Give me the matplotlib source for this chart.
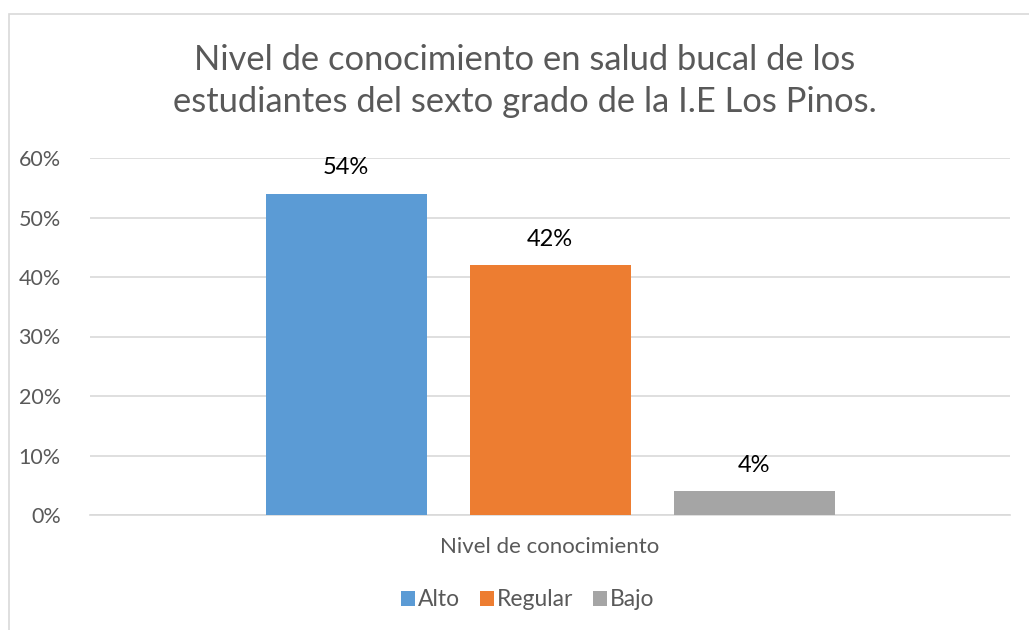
import matplotlib.pyplot as plt
from matplotlib.patches import Rectangle

# datos
series = ["Alto", "Regular", "Bajo"]
valores = [0.54, 0.42, 0.04]
etiquetas = ["54%", "42%", "4%"]
colores = ["#5B9BD5", "#ED7D31", "#A5A5A5"]
categoria = "Nivel de conocimiento"
ticks = [0, 0.1, 0.2, 0.3, 0.4, 0.5, 0.6]
tick_labels = ["0%", "10%", "20%", "30%", "40%", "50%", "60%"]

plt.rcParams["font.family"] = ["Lato", "DejaVu Sans"]
gris = "#595959"

fig = plt.figure(figsize=(10.29, 6.3), dpi=100)
fig.patches.append(Rectangle((9 / 1029, -0.1), 1.2, 1 - 14 / 630 + 0.1,
                             transform=fig.transFigure, fill=False,
                             edgecolor="#d9d9d9", linewidth=1.2))

ax = fig.add_axes([90 / 1029, 1 - 515 / 630, 920 / 1029, 357 / 630])
ancho = 161 / 920
paso = 204 / 920
for i, (s, v, e, c) in enumerate(zip(series, valores, etiquetas, colores)):
    x = (i - 1) * paso
    ax.bar(x, v, width=ancho, color=c, label=s, zorder=3)
    ax.text(x, v + 0.026, e, ha="center", va="bottom", fontsize=17, color="#000000")

ax.set_xlim(-0.5, 0.5)
ax.set_ylim(0, 0.6)
ax.set_yticks(ticks)
ax.set_yticklabels(tick_labels, fontsize=15.5, color=gris)
ax.set_xticks([])
ax.grid(axis="y", color="#d9d9d9", linewidth=1.2, zorder=0)
for lado in ["top", "right", "left"]:
    ax.spines[lado].set_visible(False)
ax.spines["bottom"].set_color("#d9d9d9")
ax.spines["bottom"].set_linewidth(1.2)
ax.tick_params(axis="y", length=0, pad=21)

fig.text(550 / 1029, 1 - 547 / 630, categoria, ha="center", va="center",
         fontsize=16, color=gris)
fig.text(525 / 1029, 1 - 81 / 630,
         "Nivel de conocimiento en salud bucal de los\nestudiantes del sexto grado de la I.E Los Pinos.",
         ha="center", va="center", fontsize=24.8, color=gris, linespacing=1.4)

fig.legend(loc="center", bbox_to_anchor=(528 / 1029, 1 - 600 / 630), ncol=3,
           frameon=False, fontsize=16.5, handlelength=0.6, handleheight=0.6,
           handletextpad=0.15, columnspacing=0.85, labelcolor=gris)

fig.savefig("out.png", dpi=100)
